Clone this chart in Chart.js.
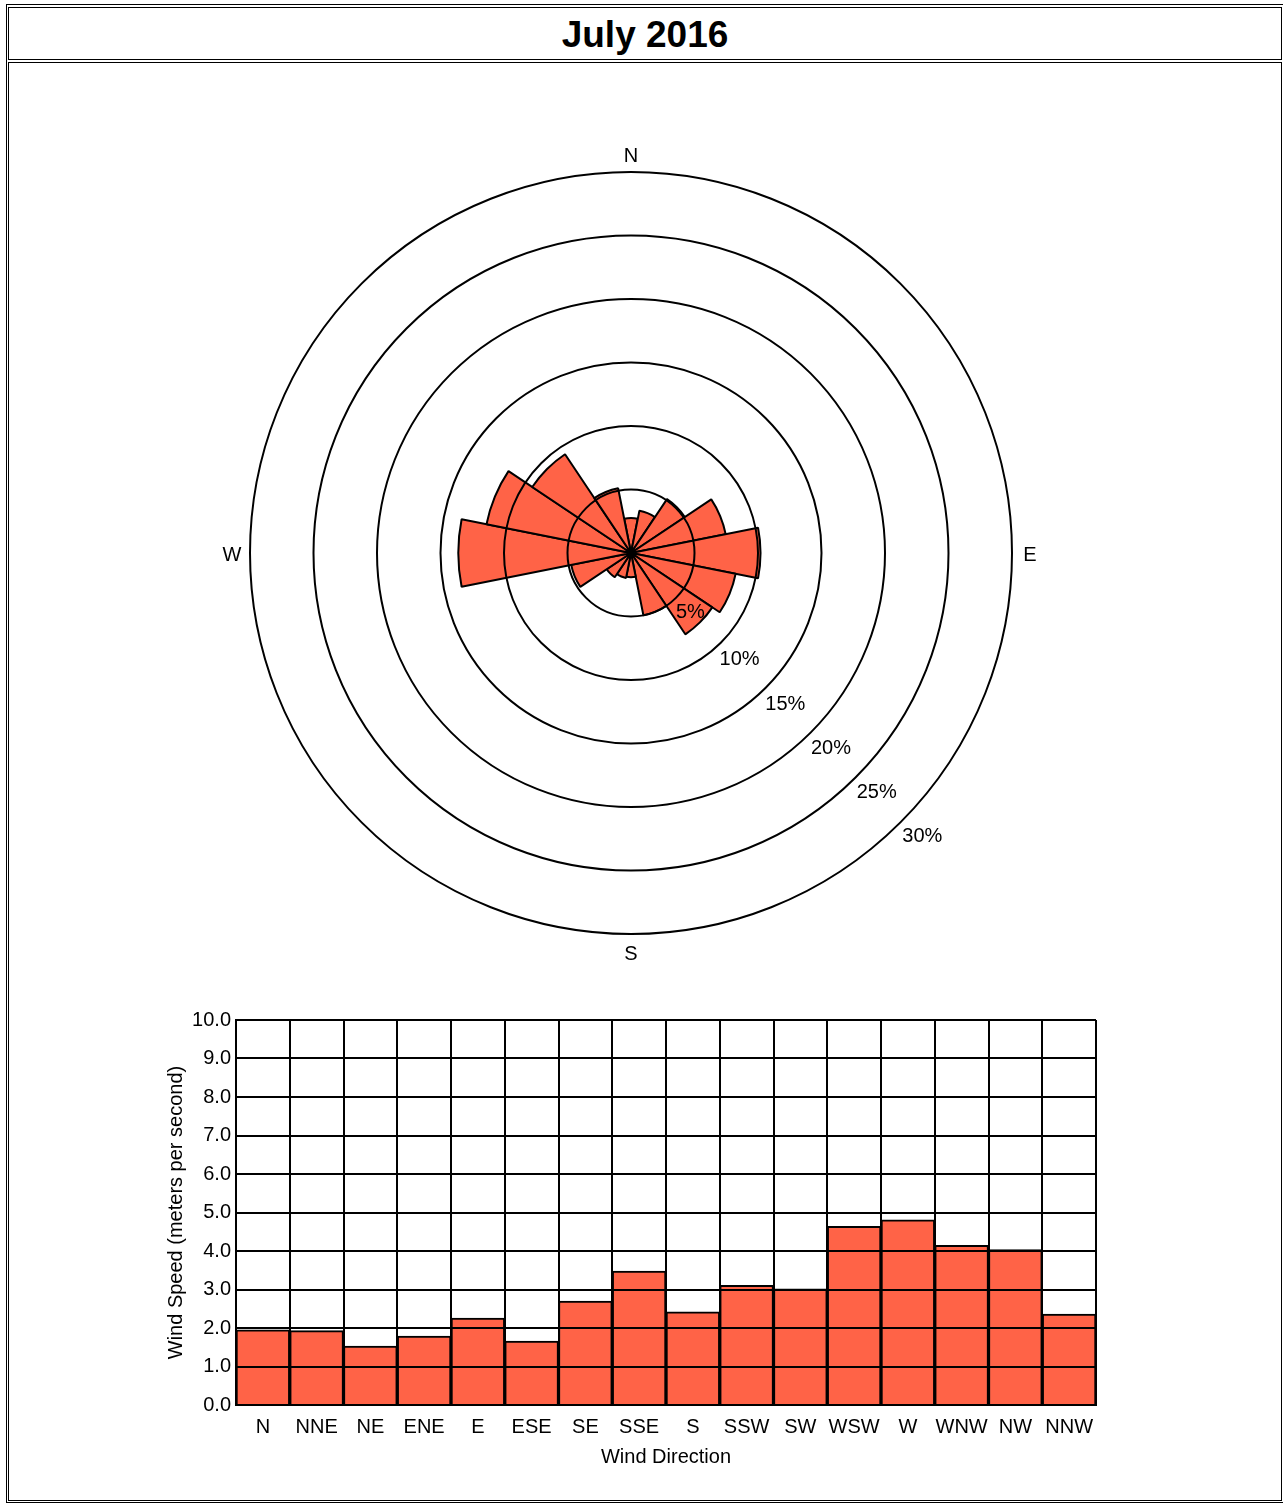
<!DOCTYPE html>
<html>
<head>
<meta charset="utf-8">
<script src="https://cdn.jsdelivr.net/npm/chart.js@4.4.1/dist/chart.umd.min.js"></script>
<style>
body{margin:0;background:#fff;font-family:"Liberation Sans",Arial,sans-serif;}
#frame{position:absolute;left:6px;top:4px;width:1276px;height:1497px;border:1px solid #000;}
#titleBox{position:absolute;left:8px;top:7px;width:1272px;height:51px;border:1px solid #000;
text-align:center;font-weight:bold;font-size:37px;line-height:53px;color:#000;}
#mainBox{position:absolute;left:8px;top:62px;width:1272px;height:1437px;border:1px solid #000;}
#rose{position:absolute;left:181px;top:103px;}
#barras{position:absolute;left:150px;top:1003px;}
</style>
</head>
<body>
<div id="frame"></div>
<div id="titleBox">July 2016</div>
<div id="mainBox"></div>
<canvas id="rose" width="900" height="900"></canvas>
<canvas id="barras" width="956" height="472"></canvas>
<script>
const direcoes = ["N","NNE","NE","ENE","E","ESE","SE","SSE","S","SSW","SW","WSW","W","WNW","NW","NNW"];
// frequencia (%) por direcao - rosa dos ventos
const frequencia = [2.75,3.4,5.1,7.6,10.2,8.4,7.7,5.0,1.9,2.0,2.3,4.8,13.6,11.6,9.35,5.2];
// velocidade media (m/s)
const velocidade = [1.95,1.93,1.53,1.79,2.26,1.66,2.70,3.48,2.42,3.11,3.02,4.64,4.81,4.15,4.04,2.36];
const aneis = [5,10,15,20,25,30];
const pontosCardeais = ["N","E","S","W"];

const cor = "#FF6347";
const fonte = "'Liberation Sans', Arial, sans-serif";

const rotulosRosa = {
id:"rotulosRosa",
afterDraw(chart){
const ctx = chart.ctx;
const r = chart.scales.r;
ctx.save();
ctx.fillStyle = "#000";
ctx.font = "20px " + fonte;
ctx.textAlign = "center";
ctx.textBaseline = "middle";
// rotulos dos aneis (canto inferior direito)
const ang = 134 * Math.PI / 180;
aneis.forEach(v=>{
const d = r.getDistanceFromCenterForValue(v) + (v === 5 ? 19 : 24);
ctx.fillText(v + "%", r.xCenter + d*Math.sin(ang), r.yCenter - d*Math.cos(ang) + 2);
});
// pontos cardeais
const dMax = r.getDistanceFromCenterForValue(30) + 18;
pontosCardeais.forEach((p,i)=>{
const a = i * Math.PI / 2;
ctx.fillText(p, r.xCenter + dMax*Math.sin(a), r.yCenter - dMax*Math.cos(a) + 2);
});
ctx.restore();
}
};

new Chart(document.getElementById("rose"),{
type:"polarArea",
data:{
labels:direcoes,
datasets:[{
data:frequencia,
backgroundColor:cor,
borderColor:"#000",
borderWidth:2
}]
},
options:{
responsive:false,
animation:false,
layout:{padding:69},
plugins:{legend:{display:false},tooltip:{enabled:false}},
scales:{
r:{
min:0,
max:30,
startAngle:-11.25,
ticks:{display:false,stepSize:5},
grid:{circular:true,color:"#000",lineWidth:2,z:1},
angleLines:{display:false},
pointLabels:{display:false}
}
}
},
plugins:[rotulosRosa]
});

new Chart(document.getElementById("barras"),{
type:"bar",
data:{
labels:direcoes,
datasets:[{
data:velocidade,
backgroundColor:cor,
borderColor:"#000",
borderWidth:2,
barPercentage:1,
categoryPercentage:1
}]
},
options:{
responsive:false,
animation:false,
layout:{padding:{top:14,right:10,left:0,bottom:0}},
plugins:{legend:{display:false},tooltip:{enabled:false}},
scales:{
x:{
grid:{color:"#000",lineWidth:2,drawTicks:false,offset:true,z:1},
border:{color:"#000",width:2,z:1},
ticks:{color:"#000",font:{family:fonte,size:20},padding:10,maxRotation:0,autoSkip:false},
title:{display:true,text:"Wind Direction",color:"#000",font:{family:fonte,size:20},padding:{top:0,bottom:6}},
afterFit(s){ s.height = 70; }
},
y:{
min:0,
max:10,
grid:{color:"#000",lineWidth:2,drawTicks:false,z:1},
border:{color:"#000",width:2,z:1},
ticks:{stepSize:1,color:"#000",font:{family:fonte,size:20},padding:5,callback:v => v.toFixed(1)},
title:{display:true,text:"Wind Speed (meters per second)",color:"#000",font:{family:fonte,size:20},padding:{top:14,bottom:0}},
afterFit(s){ s.width = 86; }
}
}
}
});
</script>
</body>
</html>
